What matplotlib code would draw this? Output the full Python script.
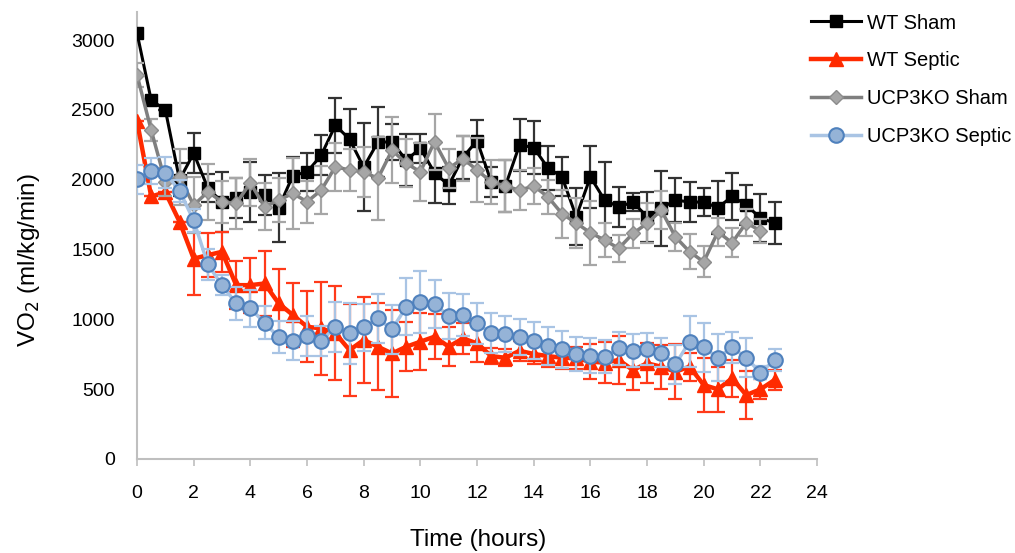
import numpy as np
import matplotlib
matplotlib.use('Agg')
import matplotlib.pyplot as plt

plt.rcParams['font.family'] = ['Liberation Sans', 'DejaVu Sans']

# time in hours, one point every half hour
hours = np.arange(0, 23, 0.5)

wt_sham = [3050, 2570, 2500, 2000, 2190, 1940, 1840, 1870, 1910, 1890,
           1800, 2030, 2055, 2175, 2390, 2290, 2090, 2270, 2270, 2140,
           2225, 2050, 1960, 2160, 2280, 1985, 1955, 2250, 2230, 2085,
           2020, 1735, 2020, 1855, 1805, 1840, 1735, 1795, 1855, 1840,
           1840, 1800, 1880, 1820, 1725, 1690]
wt_sham_err = [0, 0, 0, 120, 143, 100, 215, 143, 215, 143,
               245, 131, 136, 143, 198, 219, 315, 250, 130, 188,
               103, 220, 131, 155, 150, 107, 187, 184, 191, 157,
               140, 203, 220, 270, 143, 65, 179, 267, 155, 143,
               102, 191, 167, 143, 172, 150]

wt_septic = [2420, 1880, 1910, 1700, 1435, 1460, 1484, 1245, 1245, 1257,
             1114, 1031, 947, 935, 900, 780, 852, 804, 756, 804,
             840, 876, 804, 864, 828, 737, 725, 775, 752, 737,
             725, 721, 697, 690, 709, 637, 685, 661, 625, 661,
             530, 499, 578, 458, 499, 566]
wt_septic_err = [0, 0, 0, 0, 258, 155, 143, 172, 198, 234,
                 250, 227, 255, 334, 337, 328, 306, 311, 310, 177,
                 205, 163, 140, 113, 136, 60, 60, 70, 70, 80,
                 80, 80, 125, 146, 169, 141, 144, 157, 197, 101,
                 193, 160, 131, 169, 72, 72]

ko_sham = [2750, 2355, 1985, 2020, 1818, 1913, 1842, 1830, 1978, 1806,
           1854, 1902, 1842, 1925, 2093, 2069, 2057, 2009, 2212, 2117,
           2057, 2272, 2081, 2152, 2069, 1985, 1955, 1925, 1955, 1878,
           1756, 1690, 1620, 1568, 1508, 1615, 1687, 1782, 1591, 1484,
           1412, 1627, 1548, 1692, 1634, np.nan]
ko_sham_err = [84, 80, 100, 203, 200, 203, 150, 181, 167, 167,
               160, 256, 150, 172, 172, 148, 179, 298, 235, 172,
               206, 200, 141, 163, 229, 158, 187, 143, 131, 122,
               172, 179, 229, 124, 95, 107, 143, 136, 98, 124,
               110, 100, 103, 95, 84, np.nan]

ko_septic = [2002, 2064, 2050, 1921, 1708, 1393, 1245, 1114, 1078, 976,
             871, 847, 880, 845, 947, 900, 943, 1007, 928, 1090,
             1126, 1110, 1024, 1031, 971, 900, 895, 871, 847, 809,
             785, 752, 740, 733, 792, 775, 787, 761, 678, 840,
             800, 725, 800, 725, 618, 709]
ko_septic_err = [103, 95, 110, 80, 80, 112, 72, 119, 131, 119,
                 115, 138, 143, 105, 179, 220, 167, 174, 174, 203,
                 222, 172, 167, 150, 148, 143, 129, 129, 134, 134,
                 130, 125, 124, 119, 119, 119, 117, 103, 138, 184,
                 177, 167, 112, 138, 48, 76]

fig = plt.figure(figsize=(10.15, 5.53), dpi=100)
ax = fig.add_axes([0.135, 0.170, 0.670, 0.808])

series = [
    ('WT Sham', wt_sham, wt_sham_err, dict(color='black', lw=2.2, marker='s', ms=8.5,
                                          mfc='black', mec='black'), '#333333'),
    ('WT Septic', wt_septic, wt_septic_err, dict(color='#ff2a00', lw=3.2, marker='^', ms=10,
                                                mfc='#ff2a00', mec='#ff2a00'), '#ff3a1a'),
    ('UCP3KO Sham', ko_sham, ko_sham_err, dict(color='#7f7f7f', lw=2.5, marker='D', ms=7,
                                              mfc='#a6a6a6', mec='#8c8c8c'), '#a6a6a6'),
    ('UCP3KO Septic', ko_septic, ko_septic_err, dict(color='#a9c4e4', lw=2.5, marker='o', ms=10.5,
                                                    mfc='#95b3d7', mec='#4f81bd', mew=1.5), '#a9c4e4'),
]
for i, (name, y, err, style, ecol) in enumerate(series):
    ax.errorbar(hours, y, yerr=err, fmt='none', ecolor=ecol, elinewidth=1.6,
                capsize=5, capthick=1.6, zorder=2 + 2 * i)
    ax.plot(hours, y, label=name, zorder=3 + 2 * i, **style)

ax.set_xlim(0, 24)
ax.set_ylim(0, 3200)
ax.set_xticks(range(0, 25, 2))
ax.set_yticks(range(0, 3001, 500))
for s in ['top', 'right']:
    ax.spines[s].set_visible(False)
for s in ['left', 'bottom']:
    ax.spines[s].set_color('#bfbfbf')
    ax.spines[s].set_linewidth(1.5)
ax.tick_params(axis='x', direction='out', length=5, width=1.2, color='#bfbfbf',
               labelsize=14, pad=14)
ax.tick_params(axis='y', length=0, labelsize=14, pad=16)

ax.set_xlabel('Time (hours)', fontsize=17.5)
ax.xaxis.set_label_coords(0.501, -0.157)
ax.set_ylabel('VO$_2$ (ml/kg/min)', fontsize=17.5)
ax.yaxis.set_label_coords(-0.139, 0.445)

ax.legend(loc='upper left', bbox_to_anchor=(0.979, 1.015), frameon=False, fontsize=14.5,
          handlelength=2.5, labelspacing=0.93, borderaxespad=0, handletextpad=0.3)

fig.savefig('out.png', dpi=100)
